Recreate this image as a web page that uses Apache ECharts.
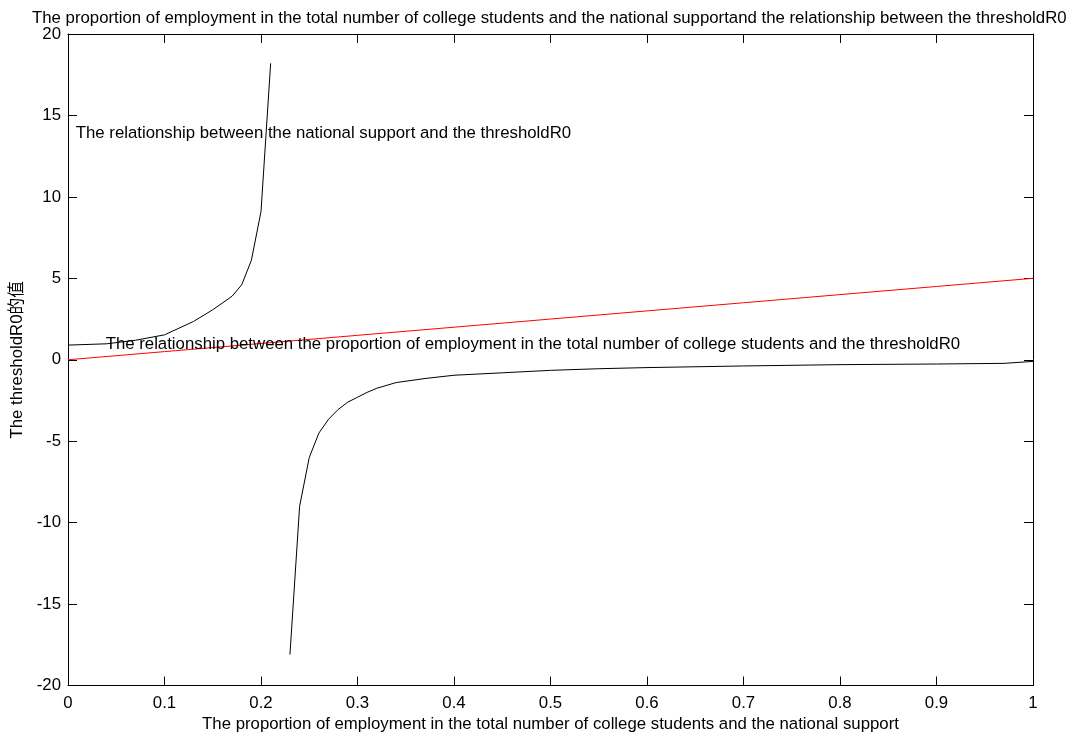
<!DOCTYPE html>
<html>
<head>
<meta charset="utf-8">
<script src="https://cdn.jsdelivr.net/npm/echarts@6/dist/echarts.min.js"></script>
<style>html,body{margin:0;padding:0;background:#fff}#c{width:1073px;height:738px}</style>
</head>
<body>
<div id="c"></div>
<script>
// Data
const supportX = [0, 0.04, 0.07, 0.1, 0.13, 0.15, 0.17, 0.18, 0.19, 0.2, 0.21];
const supportY = [0.9, 0.98, 1.2, 1.53, 2.35, 3.07, 3.9, 4.6, 6.1, 9.1, 18.2];
const support2X = [0.23, 0.24, 0.25, 0.26, 0.27, 0.28, 0.29, 0.3, 0.31, 0.32, 0.34, 0.37, 0.4, 0.45, 0.5, 0.55, 0.6, 0.7, 0.8, 0.9, 0.97, 1.0];
const support2Y = [-18.1, -9.0, -6.0, -4.5, -3.65, -3.05, -2.6, -2.3, -2.0, -1.75, -1.4, -1.15, -0.95, -0.8, -0.65, -0.55, -0.48, -0.38, -0.3, -0.26, -0.22, -0.1];
const employX = [0, 0.1, 0.2, 0.3, 0.4, 0.5, 0.6, 0.7, 0.8, 0.9, 1.0];
const employY = [0, 0.5, 1.0, 1.5, 2.0, 2.5, 3.0, 3.5, 4.0, 4.5, 5.0];
const xTicks = [0, 0.1, 0.2, 0.3, 0.4, 0.5, 0.6, 0.7, 0.8, 0.9, 1];
const yTicks = [-20, -15, -10, -5, 0, 5, 10, 15, 20];
const titleText = 'The proportion of employment in the total number of college students and the national supportand the relationship between the thresholdR0';
const xName = 'The proportion of employment in the total number of college students and the national support';
const yName = 'The thresholdR0的值';
const notes = [
  {x: 0.008, y: 13.9, text: 'The relationship between the national support and the thresholdR0'},
  {x: 0.039, y: 0.92, text: 'The relationship between the proportion of employment in the total number of college students and the thresholdR0'}
];

const FONT = '"Liberation Sans", Arial, "Noto Sans CJK SC", sans-serif';
const FS = 16.8;
const zip = (xs, ys) => xs.map((v, i) => [v, ys[i]]);

const chart = echarts.init(document.getElementById('c'), null, {renderer: 'canvas'});
const axisCommon = {
  type: 'value',
  axisLine: {show: true, onZero: false, lineStyle: {color: '#000', width: 1}},
  axisTick: {show: true, inside: true, length: 9, lineStyle: {color: '#000'}},
  splitLine: {show: false}
};
chart.setOption({
  animation: false,
  backgroundColor: '#fff',
  title: {
    text: titleText, left: 27, top: 5,
    textStyle: {fontFamily: FONT, fontSize: FS, fontWeight: 'normal', color: '#000'}
  },
  grid: {left: 68, right: 40, top: 34, bottom: 52, containLabel: false},
  xAxis: [
    Object.assign({}, axisCommon, {
      min: 0, max: 1, interval: 0.1, position: 'bottom',
      name: xName, nameLocation: 'middle', nameGap: 29,
      nameTextStyle: {fontFamily: FONT, fontSize: FS, color: '#000'},
      axisLabel: {fontFamily: FONT, fontSize: FS, color: '#000', margin: 9,
        formatter: v => xTicks.includes(+v.toFixed(1)) ? String(+v.toFixed(1)) : ''}
    }),
    Object.assign({}, axisCommon, {
      min: 0, max: 1, interval: 0.1, position: 'top', axisLabel: {show: false}
    })
  ],
  yAxis: [
    Object.assign({}, axisCommon, {
      min: -20, max: 20, interval: 5, position: 'left',
      name: yName, nameLocation: 'middle', nameGap: 41,
      nameTextStyle: {fontFamily: FONT, fontSize: FS, color: '#000'},
      axisLabel: {fontFamily: FONT, fontSize: FS, color: '#000', margin: 7,
        formatter: v => yTicks.includes(v) ? String(v) : ''}
    }),
    Object.assign({}, axisCommon, {
      min: -20, max: 20, interval: 5, position: 'right', axisLabel: {show: false}
    })
  ],
  series: [
    {type: 'line', data: zip(supportX, supportY), showSymbol: false, symbol: 'none',
      lineStyle: {color: '#000', width: 1}, silent: true},
    {type: 'line', data: zip(support2X, support2Y), showSymbol: false, symbol: 'none',
      lineStyle: {color: '#000', width: 1}, silent: true},
    {type: 'line', data: zip(employX, employY), showSymbol: false, symbol: 'none',
      lineStyle: {color: '#ff0000', width: 1}, silent: true}
  ]
});
chart.setOption({
  graphic: notes.map(n => {
    const p = chart.convertToPixel({gridIndex: 0}, [n.x, n.y]);
    return {type: 'text', x: p[0], y: p[1], z: 100, silent: true,
      style: {text: n.text, fill: '#000', font: FS + 'px ' + FONT, align: 'left', verticalAlign: 'middle'}};
  })
});
</script>
</body>
</html>
